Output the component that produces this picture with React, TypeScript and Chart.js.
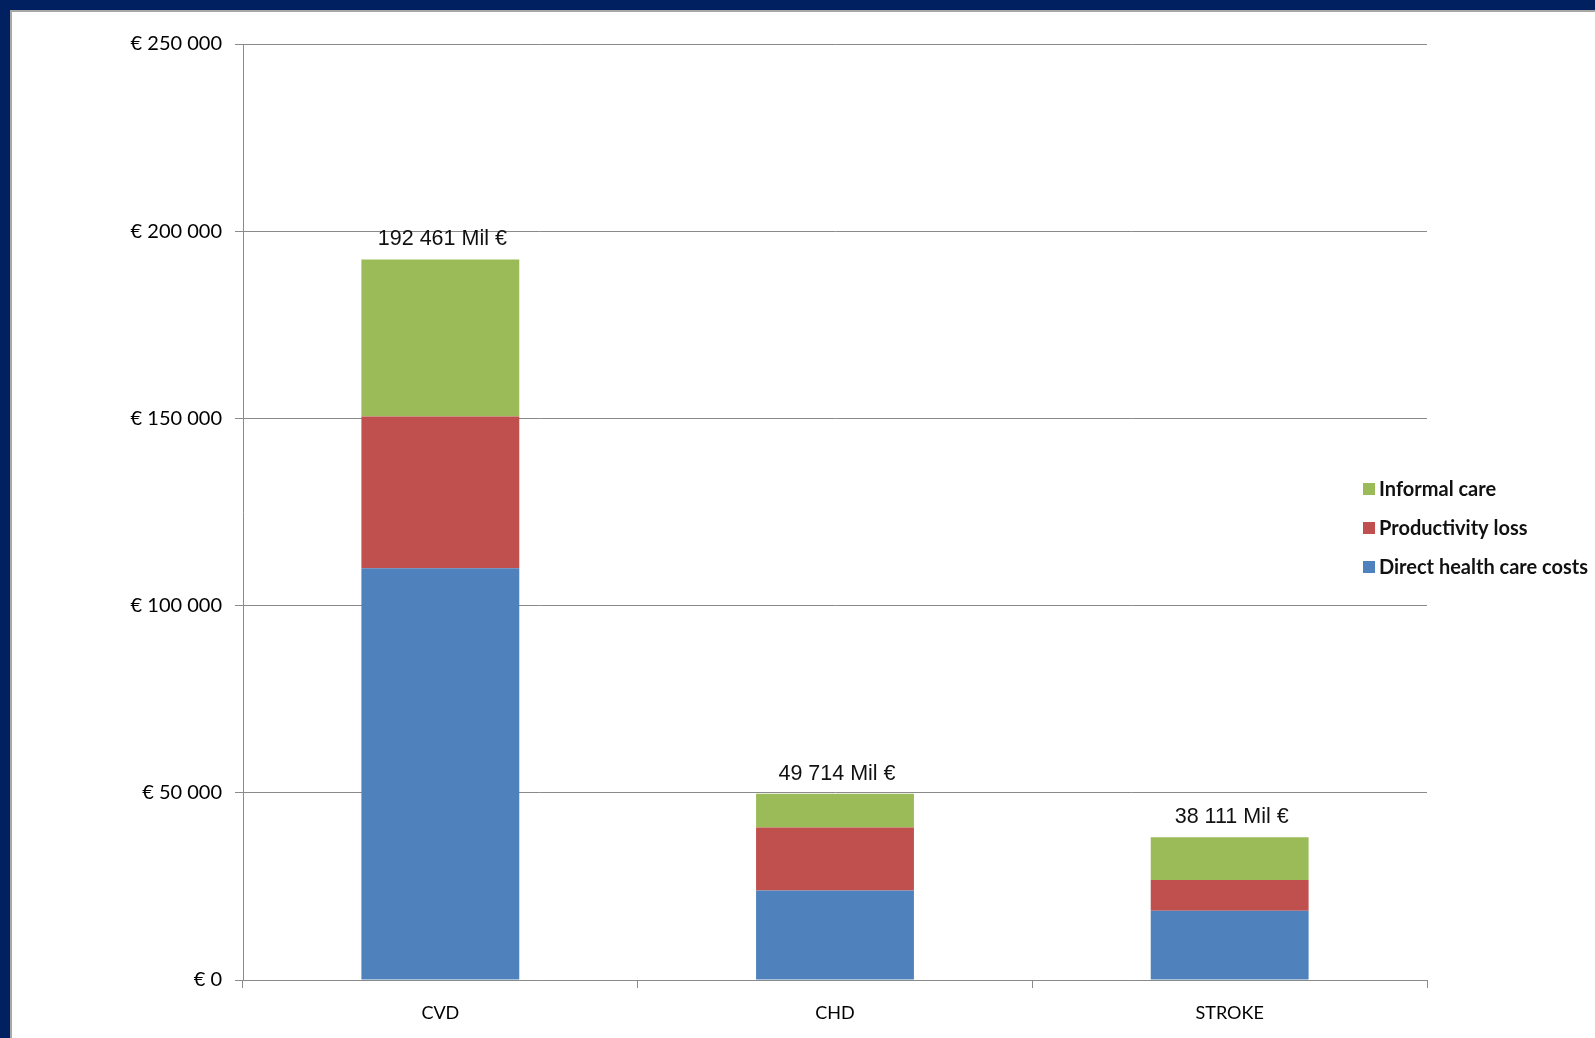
import React, { useEffect, useRef } from "react";
import { Chart, registerables } from "chart.js";

Chart.register(...registerables);

const categories = ["CVD", "CHD", "STROKE"];
const directCosts = [110000, 23900, 18500];
const productivityLoss = [40500, 16800, 8200];
const informalCare = [41961, 9014, 11411];
const totals = [192461, 49714, 38111];
const yTicks = [0, 50000, 100000, 150000, 200000, 250000];

const seriesNames = ["Direct health care costs", "Productivity loss", "Informal care"];
const seriesColors = ["#4F81BD", "#C0504D", "#9BBB59"];

const groupDigits = (v: number) =>
  Math.round(v)
    .toString()
    .replace(/\B(?=(\d{3})+(?!\d))/g, " ");

const totalsPlugin = {
  id: "totalsLabels",
  afterDatasetsDraw(chart: any) {
    const ctx = chart.ctx;
    const last = chart.data.datasets.length - 1;
    const meta = chart.getDatasetMeta(last);
    ctx.save();
    ctx.font = "21.5px 'Liberation Sans', Arial, sans-serif";
    ctx.fillStyle = "#111";
    ctx.textAlign = "center";
    ctx.textBaseline = "alphabetic";
    meta.data.forEach((bar: any, i: number) => {
      ctx.fillText(groupDigits(totals[i]) + " Mil €", bar.x + 2, bar.y - 14);
    });
    ctx.restore();
  },
};

const legendPlugin = {
  id: "customLegend",
  afterDraw(chart: any) {
    const ctx = chart.ctx;
    const ds = chart.data.datasets;
    const x0 = chart.chartArea.right - 64;
    const yStart = 477;
    const gap = 39;
    ctx.save();
    ctx.font = "bold 20px Lato, sans-serif";
    ctx.textBaseline = "middle";
    ctx.textAlign = "left";
    for (let k = ds.length - 1, row = 0; k >= 0; k--, row++) {
      const y = yStart + row * gap;
      ctx.fillStyle = ds[k].backgroundColor;
      ctx.fillRect(x0, y - 6, 12, 12);
      ctx.fillStyle = "#111";
      ctx.fillText(ds[k].label, x0 + 16, y + 1);
    }
    ctx.restore();
  },
};

export default function App() {
  const ref = useRef<HTMLCanvasElement | null>(null);

  useEffect(() => {
    document.body.style.margin = "0";
    document.body.style.background = "#002060";
    const canvas = ref.current!;
    const chart = new Chart(canvas, {
      type: "bar",
      data: {
        labels: categories,
        datasets: [
          { label: seriesNames[0], data: directCosts, backgroundColor: seriesColors[0] },
          { label: seriesNames[1], data: productivityLoss, backgroundColor: seriesColors[1] },
          { label: seriesNames[2], data: informalCare, backgroundColor: seriesColors[2] },
        ],
      },
      options: {
        animation: false,
        responsive: false,
        devicePixelRatio: 1,
        layout: { padding: { top: 32, right: 168, left: 0, bottom: 0 } },
        datasets: { bar: { barPercentage: 0.4, categoryPercentage: 1 } },
        plugins: { legend: { display: false }, tooltip: { enabled: false } },
        scales: {
          x: {
            stacked: true,
            grid: {
              drawOnChartArea: false,
              drawTicks: true,
              tickLength: 8,
              color: "#8a8a8a",
              offset: true,
            },
            border: { color: "#8a8a8a", width: 1 },
            ticks: {
              color: "#000",
              font: { family: "Lato, sans-serif", size: 18 },
              padding: 14,
            },
            afterFit: (s: any) => {
              s.height = 58;
            },
          },
          y: {
            stacked: true,
            min: 0,
            max: 250000,
            afterBuildTicks: (s: any) => {
              s.ticks = yTicks.map((v) => ({ value: v }));
            },
            grid: { color: "#8a8a8a", tickLength: 8, lineWidth: 1 },
            border: { color: "#8a8a8a", width: 1 },
            ticks: {
              color: "#000",
              font: { family: "Lato, sans-serif", size: 20 },
              padding: 13,
              callback: (v: any) => "€ " + groupDigits(Number(v)),
            },
            afterFit: (s: any) => {
              s.width = 231;
            },
          },
        },
      },
      plugins: [totalsPlugin, legendPlugin],
    });
    return () => chart.destroy();
  }, []);

  return (
    <div
      style={{
        position: "absolute",
        left: 10,
        top: 10,
        width: 1585,
        height: 1028,
        background: "#fff",
        borderTop: "2px solid #a8a8a8",
        borderLeft: "2px solid #a8a8a8",
        boxSizing: "border-box",
      }}
    >
      <canvas ref={ref} width={1583} height={1026} style={{ display: "block" }} />
    </div>
  );
}
